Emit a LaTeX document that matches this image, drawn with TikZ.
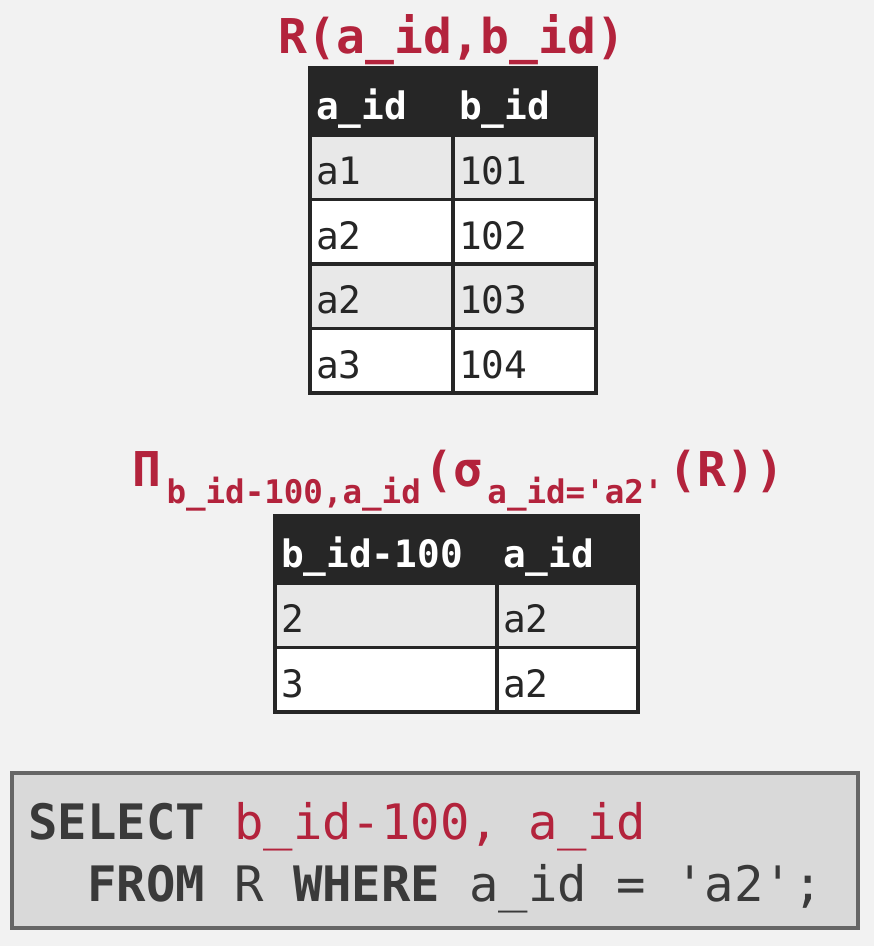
\documentclass[tikz,border=0pt]{standalone}
\usepackage{fontspec}
\usepackage[table]{xcolor}
\newfontfamily\dbfont{DejaVu Sans Mono}

\definecolor{dbred}{HTML}{B3233C}
\definecolor{dbdark}{HTML}{262626}
\definecolor{dbshade}{HTML}{E8E8E8}
\definecolor{dbbg}{HTML}{F2F2F2}
\definecolor{sqlfill}{HTML}{D9D9D9}
\definecolor{sqlline}{HTML}{666666}
\definecolor{sqltext}{HTML}{3A3A3A}

\newcommand\lowsub[1]{\raisebox{-9.7pt}{\fontsize{18.5}{18.5}\selectfont #1}}
\newcommand\kw[1]{{\bfseries #1}}
\newcommand\monospace{\spaceskip=0.602em\relax\xspaceskip=0.602em\relax}

\tikzset{
 cell/.style={rectangle, draw=dbdark, line width=2.1pt, outer sep=0pt, anchor=north west,
  inner xsep=0.12cm, inner ysep=0pt, align=left, text height=20pt, text depth=0pt,
  minimum height=1.29cm, text=dbdark, font=\dbfont\fontsize{21.5}{21.5}\selectfont},
 head/.style={cell, fill=dbdark, text=white, minimum height=1.34cm,
  font=\dbfont\bfseries\fontsize{21.5}{21.5}\selectfont},
 odd/.style={cell, fill=dbshade},
 even/.style={cell, fill=white},
 wR/.style={minimum width=2.86cm, text width=2.62cm},
 wP/.style={minimum width=4.44cm, text width=4.2cm},
 wQ/.style={minimum width=2.82cm, text width=2.58cm},
 title/.style={anchor=base, inner sep=0pt, text=dbred,
  font=\dbfont\bfseries\fontsize{27.3}{27.3}\selectfont},
 sql/.style={rectangle, anchor=north west, outer sep=0pt, fill=sqlfill, draw=sqlline,
  line width=2.3pt, minimum width=16.92cm, minimum height=3.1cm, inner xsep=0.33cm,
  text width=16.26cm, align=left, text=sqltext,
  font=\dbfont\fontsize{27.8}{35.3}\selectfont}
}

\begin{document}
\begin{tikzpicture}[x=0.02cm, y=-0.02cm]
 \path[fill=dbbg, use as bounding box] (0,0) rectangle (874,946);

 % input relation
 \node[title] (rel) at (452,54) {R(a\_id,b\_id)};
 \node[head, wR] (A0) at (310,68) {a\_id};
 \node[head, wR] (B0) at (453,68) {b\_id};
 \node[odd, wR] (A1) at (310,135) {a1};
 \node[odd, wR] (B1) at (453,135) {101};
 \node[even, wR] (A2) at (310,199.5) {a2};
 \node[even, wR] (B2) at (453,199.5) {102};
 \node[odd, wR] (A3) at (310,264) {a2};
 \node[odd, wR] (B3) at (453,264) {103};
 \node[even, wR] (A4) at (310,328.5) {a3};
 \node[even, wR] (B4) at (453,328.5) {104};

 % projection of selection
 \node[title, anchor=base west] (expr) at (132,486)
  {Π\hspace{3pt}\lowsub{b\_id-100,a\_id}\hspace{2pt}(σ\hspace{3pt}\lowsub{a\_id='a2'}\hspace{3pt}(R))};
 \node[head, wP] (P0) at (275,516) {b\_id-100};
 \node[head, wQ] (Q0) at (497,516) {a\_id};
 \node[odd, wP] (P1) at (275,583) {2};
 \node[odd, wQ] (Q1) at (497,583) {a2};
 \node[even, wP] (P2) at (275,647.5) {3};
 \node[even, wQ] (Q2) at (497,647.5) {a2};

 % query
 \node[sql] (query) at (12,773)
  {\monospace\rule{0pt}{1.05em}\kw{SELECT} \textcolor{dbred}{b\_id-100, a\_id}\\
   \hphantom{xx}\kw{FROM} R \kw{WHERE} a\_id = 'a2';};
\end{tikzpicture}
\end{document}
